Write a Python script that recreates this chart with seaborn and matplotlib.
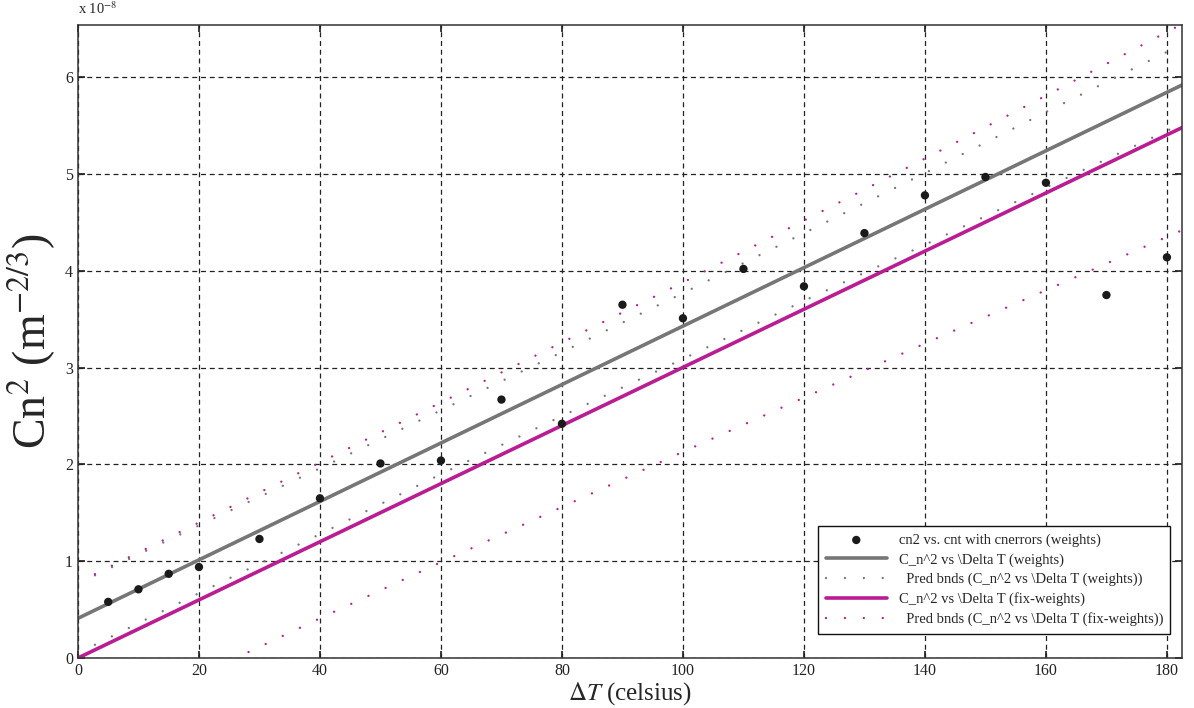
"""
Cn^2 vs Delta T: weighted fits and prediction bounds
"""

import numpy as np
import matplotlib
matplotlib.use('Agg')
import matplotlib.pyplot as plt
import seaborn as sns

# measured points (y in units of 1e-8)
delta_t = [5, 10, 15, 20, 30, 40, 50, 60, 70, 80,
           90, 100, 110, 120, 130, 140, 150, 160, 170, 180]
cn2 = [0.58, 0.71, 0.87, 0.94, 1.23, 1.65, 2.01, 2.04, 2.67, 2.42,
       3.65, 3.51, 4.02, 3.84, 4.39, 4.78, 4.97, 4.91, 3.75, 4.14]

# fitted lines, read at both ends of the x range
fit_x = [0, 182.5]
fit_w = [0.41, 5.92]       # weights
fit_fw = [0.0, 5.48]       # fix-weights

# prediction bounds, read along the x range
bnd_x = [0, 20, 40, 60, 80, 100, 120, 140, 160, 182.5]
bnd_w_up = [0.77, 1.37, 1.96, 2.56, 3.16, 3.77, 4.39, 5.01, 5.64, 6.34]
bnd_w_lo = [0.05, 0.67, 1.28, 1.90, 2.50, 3.09, 3.69, 4.27, 4.86, 5.52]
bnd_fw_up = [0.78, 1.40, 2.02, 2.64, 3.26, 3.88, 4.52, 5.16, 5.81, 6.55]
bnd_fw_lo = [-0.78, -0.18, 0.41, 0.99, 1.56, 2.13, 2.69, 3.25, 3.80, 4.42]

gray = '#767676'
magenta = '#BA1C94'

sns.set_theme(style='ticks')
plt.rcParams['font.family'] = ['Liberation Serif', 'DejaVu Serif']
plt.rcParams['mathtext.fontset'] = 'stix'

fig = plt.figure(figsize=(11.94, 7.08), dpi=100)
ax = fig.add_axes([0.0653, 0.0706, 0.9247, 0.8941])

dots = (0, (0.01, 8))


def dotted(line):
    # MATLAB style ':' line
    line.set_linestyle(dots)
    line.set_dash_capstyle('round')


sns.scatterplot(x=delta_t, y=cn2, color='#1a1a1a', s=36, edgecolor='none',
                ax=ax, zorder=5, label='cn2 vs. cnt with cnerrors (weights)')
sns.lineplot(x=fit_x, y=fit_w, color=gray, lw=2.6, ax=ax,
             label='C_n^2 vs \\Delta T (weights)')
sns.lineplot(x=bnd_x, y=bnd_w_up, color=gray, lw=1.7, ax=ax,
             label='  Pred bnds (C_n^2 vs \\Delta T (weights))')
dotted(ax.lines[-1])
sns.lineplot(x=bnd_x, y=bnd_w_lo, color=gray, lw=1.7, ax=ax)
dotted(ax.lines[-1])
sns.lineplot(x=fit_x, y=fit_fw, color=magenta, lw=2.6, ax=ax,
             label='C_n^2 vs \\Delta T (fix-weights)')
sns.lineplot(x=bnd_x, y=bnd_fw_up, color=magenta, lw=1.7, ax=ax,
             label='  Pred bnds (C_n^2 vs \\Delta T (fix-weights))')
dotted(ax.lines[-1])
sns.lineplot(x=bnd_x, y=bnd_fw_lo, color=magenta, lw=1.7, ax=ax)
dotted(ax.lines[-1])

ax.set_xlim(0, 182.5)
ax.set_ylim(0, 6.54)
ax.set_xticks(range(0, 181, 20))
ax.set_yticks(range(0, 7))

ax.grid(True, color='#222222', linestyle=(0, (4, 3)), lw=0.9)
ax.tick_params(direction='in', top=True, right=True, length=5,
               labelsize=11.5, colors='#222222')
for s in ax.spines.values():
    s.set_color('#333333')
    s.set_linewidth(1.1)

ax.set_xlabel('$\\Delta T$ (celsius)', fontsize=18, labelpad=1)
ax.set_ylabel('Cn$^2$ (m$^{-2/3}$)', fontsize=33, labelpad=5)
ax.text(0.0, 1.012, 'x 10$^{-8}$', transform=ax.transAxes, fontsize=10.5,
        ha='left', va='bottom')

leg = ax.legend(loc='lower right', bbox_to_anchor=(0.996, 0.027),
                fontsize=10.5, frameon=True, fancybox=False,
                edgecolor='#111111', framealpha=1, handlelength=4.2,
                borderpad=0.5, labelspacing=0.42)
leg.get_frame().set_linewidth(1.0)

fig.savefig('out.png', dpi=100)
plt.close()
